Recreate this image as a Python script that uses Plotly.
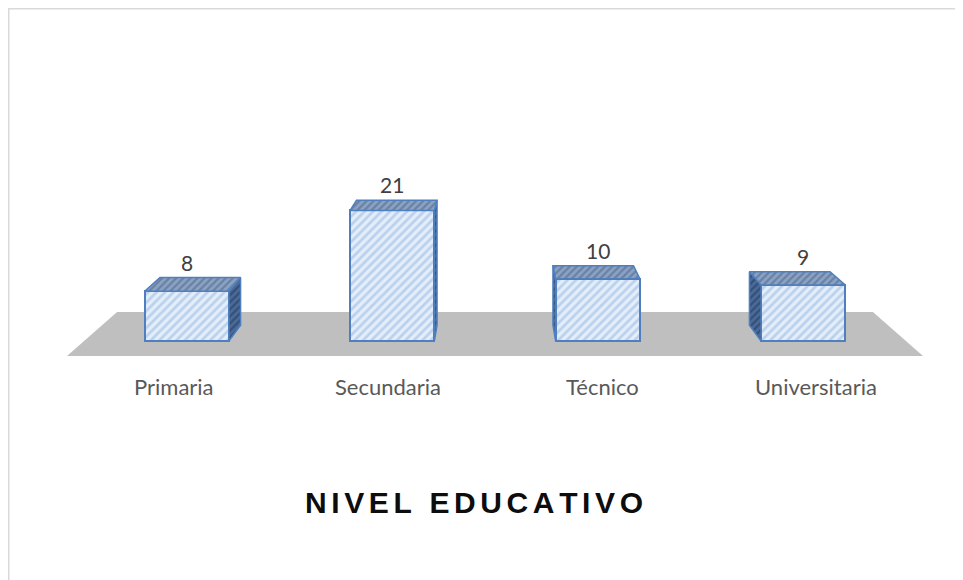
import plotly.graph_objects as go

categories = ["Primaria", "Secundaria", "Técnico", "Universitaria"]
values = [8, 21, 10, 9]
title_text = "NIVEL EDUCATIVO"

# ---- perspective projection (style constants) ----
CENTER = (len(categories) - 1) / 2
SHRINK = 0.117      # width shrink from floor front (d=0) to floor back (d=1)
LIFT = 7.07         # vertical lift (value units) from floor front to back
D_FRONT, D_BACK = 0.34, 0.70
HALF_W = 0.205


def scale(d):
    return 1 - SHRINK * d


def proj(x, v, d):
    s = scale(d)
    X = CENTER + (x - CENTER) * s
    Y = v * s / scale(D_FRONT) + LIFT * (d - D_FRONT)
    return X, Y


W, H = 963, 580
OFF = 8                         # page body margin
PX_X0, PX_PER_X = 67 - OFF, 214      # pixel of x=-0.5, pixels per category
PX_Y0, PX_PER_Y = 341 - OFF, 6.22    # pixel of value 0, pixels per unit

xr = [-0.5 - PX_X0 / PX_PER_X, -0.5 + (W - PX_X0) / PX_PER_X]
yr = [-(H - PX_Y0) / PX_PER_Y, PX_Y0 / PX_PER_Y]

EDGE = "#4f7fbf"
FRONT_BG, FRONT_FG = "#e4eefa", "#8fb3df"
TOP_BG, TOP_FG = "#8aa2c4", "#4a5f80"
SIDE_BG, SIDE_FG = "#4a6a98", "#1f3456"

fig = go.Figure()

# floor
n = len(categories)
floor_pts = [proj(-0.5, 0, 0), proj(n - 0.5, 0, 0), proj(n - 0.5, 0, 1), proj(-0.5, 0, 1)]
path = "M " + " L ".join(f"{x},{y}" for x, y in floor_pts) + " Z"

for i, (cat, v) in enumerate(zip(categories, values)):
    xl, xrr = i - HALF_W, i + HALF_W
    # side face
    side_x = xrr if i < CENTER else xl
    pts = [proj(side_x, 0, D_FRONT), proj(side_x, v, D_FRONT),
           proj(side_x, v, D_BACK), proj(side_x, 0, D_BACK)]
    fig.add_trace(go.Scatter(
        x=[p[0] for p in pts] + [pts[0][0]], y=[p[1] for p in pts] + [pts[0][1]],
        mode="lines", fill="toself", fillcolor=SIDE_BG,
        fillpattern=dict(shape="/", fgcolor=SIDE_FG, bgcolor=SIDE_BG, size=5, solidity=0.45),
        line=dict(color=EDGE, width=1.5), hoverinfo="skip", showlegend=False))
    # top face
    pts = [proj(xl, v, D_FRONT), proj(xrr, v, D_FRONT),
           proj(xrr, v, D_BACK), proj(xl, v, D_BACK)]
    fig.add_trace(go.Scatter(
        x=[p[0] for p in pts] + [pts[0][0]], y=[p[1] for p in pts] + [pts[0][1]],
        mode="lines", fill="toself", fillcolor=TOP_BG,
        fillpattern=dict(shape="/", fgcolor=TOP_FG, bgcolor=TOP_BG, size=5, solidity=0.45),
        line=dict(color=EDGE, width=1.5), hoverinfo="skip", showlegend=False))

# front faces
fig.add_trace(go.Bar(
    x=[proj(i, 0, D_FRONT)[0] for i in range(n)], y=values,
    width=2 * HALF_W * scale(D_FRONT),
    marker=dict(color=FRONT_BG, line=dict(color=EDGE, width=2),
                pattern=dict(shape="/", fgcolor=FRONT_FG, bgcolor=FRONT_BG, size=6, solidity=0.45)),
    hoverinfo="skip", showlegend=False))

annotations = []
for i, (cat, v) in enumerate(zip(categories, values)):
    x = proj(i, v, D_FRONT)[0]
    y = proj(i, v, D_BACK)[1]
    annotations.append(dict(x=x, y=y, text=str(v), showarrow=False, xref="x", yref="y",
                            yanchor="bottom", yshift=1,
                            font=dict(family="Lato", size=21, color="#404040")))
    x, y = proj(i, 0, 0)
    annotations.append(dict(x=x, y=y, text=cat, showarrow=False, xref="x", yref="y",
                            yanchor="middle", yshift=-31,
                            font=dict(family="Lato", size=22, color="#595959")))

gap = '<span style="font-size:23px">\u2009</span>'
spaced_title = gap.join(title_text)
annotations.append(dict(x=(474 - OFF) / W, y=1 - (502 - OFF) / H, xref="paper", yref="paper",
                        text=f"<b>{spaced_title}</b>", showarrow=False,
                        xanchor="center", yanchor="middle",
                        font=dict(family="Liberation Sans", size=30, color="#0d0d0d")))

fig.update_layout(
    width=W, height=H, margin=dict(l=0, r=0, t=0, b=0),
    paper_bgcolor="white", plot_bgcolor="white",
    xaxis=dict(range=xr, visible=False, fixedrange=True),
    yaxis=dict(range=yr, visible=False, fixedrange=True),
    bargap=0, annotations=annotations,
    shapes=[
        dict(type="path", path=path, xref="x", yref="y", layer="below",
             fillcolor="#bfbfbf", line=dict(width=0)),
        dict(type="line", xref="paper", yref="paper", x0=0, x1=1, y0=1 - 0.5 / H, y1=1 - 0.5 / H,
             line=dict(color="#d9d9d9", width=2)),
        dict(type="line", xref="paper", yref="paper", x0=0.5 / W, x1=0.5 / W, y0=0, y1=1,
             line=dict(color="#d9d9d9", width=2)),
    ],
)

fig.write_html("out.html")
